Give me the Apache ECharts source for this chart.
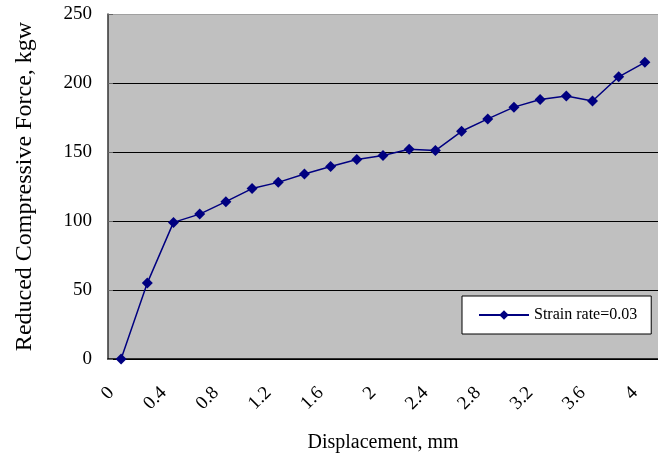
<!DOCTYPE html>
<html>
<head>
<meta charset="utf-8">
<script src="https://cdn.jsdelivr.net/npm/echarts@6/dist/echarts.min.js"></script>
<style>
html, body { margin: 0; padding: 0; background: #fff; }
#main { width: 658px; height: 464px; }
</style>
</head>
<body>
<div id="main"></div>
<script>
// displacement categories (mm), one every 0.2
var displacement = ['0', '0.2', '0.4', '0.6', '0.8', '1', '1.2', '1.4', '1.6', '1.8', '2',
    '2.2', '2.4', '2.6', '2.8', '3', '3.2', '3.4', '3.6', '3.8', '4'];
// reduced compressive force, kgw
var force = [0, 55, 99, 105, 114, 123.5, 128, 134, 139.5, 144.5, 147.5,
    152, 151, 165, 174, 182.5, 188, 190.5, 187, 204.5, 215];
var seriesName = 'Strain rate=0.03';

var serif = 'Liberation Serif';
var myChart = echarts.init(document.getElementById('main'));

var option = {
    animation: false,
    grid: {
        left: 108,
        right: -8,
        top: 14,
        bottom: 105,
        show: true,
        backgroundColor: '#C0C0C0',
        borderWidth: 0
    },
    legend: {
        left: 462,
        top: 296,
        itemWidth: 50,
        itemHeight: 12,
        itemGap: 0,
        padding: [11, 14, 11, 16],
        backgroundColor: '#fff',
        borderColor: '#000',
        borderWidth: 1,
        textStyle: { fontFamily: serif, fontSize: 16, color: '#000' },
        data: [seriesName]
    },
    xAxis: {
        type: 'category',
        data: displacement,
        name: 'Displacement, mm',
        nameLocation: 'middle',
        nameGap: 74,
        nameTextStyle: { fontFamily: serif, fontSize: 20, color: '#000' },
        axisLine: { lineStyle: { color: '#000', width: 1.5 } },
        axisTick: { inside: true, length: 6, interval: 0, lineStyle: { color: '#333' } },
        axisLabel: {
            interval: 1,
            rotate: 45,
            margin: 21,
            padding: [0, 14, 0, 0],
            fontFamily: serif,
            fontSize: 19,
            color: '#000'
        }
    },
    yAxis: {
        type: 'value',
        min: 0,
        max: 250,
        interval: 50,
        name: 'Reduced Compressive Force, kgw',
        nameLocation: 'middle',
        nameGap: 71,
        nameTextStyle: { fontFamily: serif, fontSize: 24, color: '#000' },
        axisLine: { show: true, lineStyle: { color: '#333', width: 1.5 } },
        axisTick: { show: true, inside: true, length: 5, lineStyle: { color: '#666' } },
        axisLabel: { margin: 16, fontFamily: serif, fontSize: 19, color: '#000' },
        splitLine: {
            lineStyle: { color: ['#000', '#000', '#000', '#000', '#000', '#a0a0a0'], width: 1.2 }
        }
    },
    series: [
        {
            name: seriesName,
            type: 'line',
            data: force,
            symbol: 'diamond',
            symbolSize: 11,
            itemStyle: { color: '#000080' },
            lineStyle: { color: '#000080', width: 1.5 }
        }
    ]
};

myChart.setOption(option);
</script>
</body>
</html>
